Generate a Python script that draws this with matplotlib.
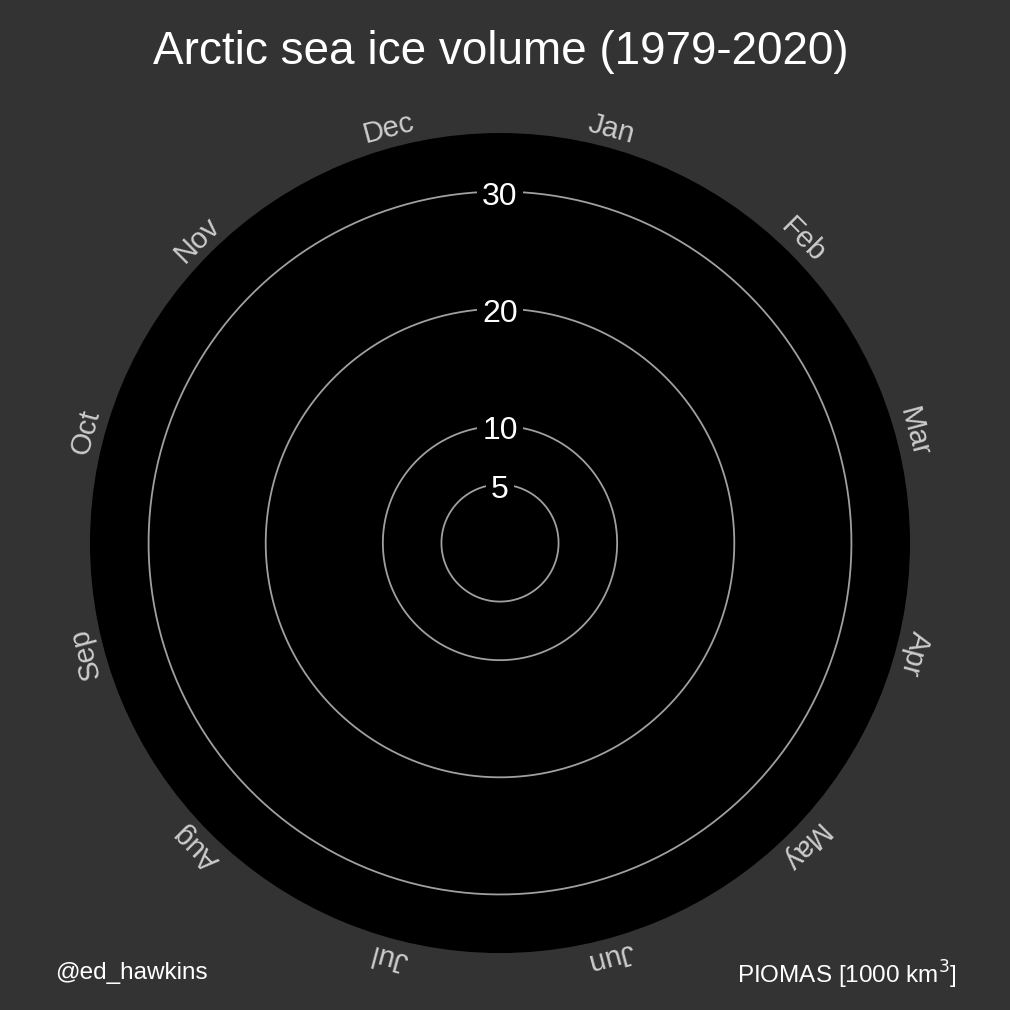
import numpy as np
import matplotlib.pyplot as plt

plt.rcParams['font.family'] = ['Liberation Sans', 'DejaVu Sans']

months = ['Jan', 'Feb', 'Mar', 'Apr', 'May', 'Jun',
          'Jul', 'Aug', 'Sep', 'Oct', 'Nov', 'Dec']
rings = [5, 10, 20, 30]
r_max = 35

title = 'Arctic sea ice volume (1979-2020)'
credit = '@ed_hawkins'
source = r'PIOMAS [1000 km$^3$]'

BG = '#333333'

fig = plt.figure(figsize=(10.1, 10.1), dpi=100, facecolor=BG)
ax = fig.add_axes([0.0891, 0.0564, 0.8119, 0.8119], projection='polar')
ax.set_facecolor('black')
ax.set_theta_zero_location('N')
ax.set_theta_direction(-1)
ax.set_ylim(0, r_max)
ax.spines['polar'].set_visible(False)
ax.set_xticks([])
ax.set_yticks([])
ax.grid(False)

# rings
theta = np.linspace(0, 2 * np.pi, 400)
for r in rings:
    ax.plot(theta, np.full_like(theta, r), color='#a0a0a0', lw=1.3, zorder=2)
    ax.text(0, r - 0.45, str(r), color='white', fontsize=23, ha='center', va='center',
            zorder=3, bbox=dict(boxstyle='square,pad=0.15', fc='black', ec='none'))

# month labels
for i, m in enumerate(months):
    a = 15 + 30 * i
    ax.text(np.deg2rad(a), 36.6, m, color='#cccccc', fontsize=21,
            ha='center', va='center', rotation=-a, rotation_mode='anchor',
            clip_on=False)

fig.text(0.496, 0.949, title, color='white', fontsize=33, ha='center', va='center')
fig.text(0.13, 0.037, credit, color='white', fontsize=17.5, ha='center', va='center')
fig.text(0.8385, 0.035, source, color='white', fontsize=17.5, ha='center', va='center')

fig.savefig('out.png', dpi=100, facecolor=BG)
